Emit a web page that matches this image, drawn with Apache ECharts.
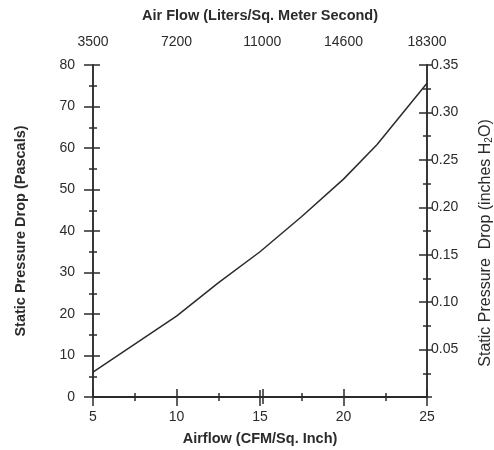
<!DOCTYPE html>
<html>
<head>
<meta charset="utf-8">
<script src="https://cdn.jsdelivr.net/npm/echarts@6/dist/echarts.min.js"></script>
<style>
  html, body { margin: 0; padding: 0; background: #fff; }
  #chart { width: 494px; height: 450px; }
</style>
</head>
<body>
<div id="chart"></div>
<script>
// airflow in CFM/sq. inch vs pressure drop in Pascals
const airflow = [5, 10, 12.5, 15, 17.5, 20, 22, 25];
const pressurePa = [6, 19.5, 27.5, 35, 43.5, 52.5, 60.8, 75.6];
// top axis tick labels (liters / sq. meter second)
const topTicks = [3500, 7200, 11000, 14600, 18300];

const ink = '#2b2b2b';
const font = 'Liberation Sans, Arial, sans-serif';
const gridBox = { left: 93, right: 67, top: 65, bottom: 53, outerBoundsMode: 'none', containLabel: false };

// each axis is drawn twice (ticks outside + ticks inside) so ticks cross the line
function bottomAxis(gridIndex, inside) {
  return {
    gridIndex: gridIndex,
    type: 'value',
    position: 'bottom',
    min: 5, max: 25, interval: 5,
    name: inside ? '' : 'Airflow (CFM/Sq. Inch)',
    nameLocation: 'middle',
    nameGap: 34,
    nameTextStyle: { fontFamily: font, fontWeight: 'bold', fontSize: 14.5, color: ink },
    axisLine: { show: true, lineStyle: { color: ink, width: 1.5 } },
    axisTick: { show: true, inside: inside, length: inside ? 7 : 9, lineStyle: { color: ink, width: 1.5 } },
    minorTick: { show: true, splitNumber: 2, length: 4, lineStyle: { color: ink, width: 1.5 } },
    axisLabel: { show: !inside, margin: 13, fontFamily: font, fontSize: 14, color: ink },
    splitLine: { show: false }
  };
}

function topAxis(gridIndex, inside) {
  return {
    gridIndex: gridIndex,
    type: 'value',
    position: 'top',
    min: topTicks[0], max: topTicks[topTicks.length - 1],
    name: inside ? '' : 'Air Flow (Liters/Sq. Meter Second)',
    nameLocation: 'middle',
    nameGap: 42,
    nameTextStyle: { fontFamily: font, fontWeight: 'bold', fontSize: 14.5, color: ink },
    axisLine: { show: true, lineStyle: { color: ink, width: 1.5 } },
    axisTick: { show: true, inside: inside, length: inside ? 7 : 8, customValues: topTicks, lineStyle: { color: ink, width: 1.5 } },
    axisLabel: {
      show: !inside, margin: 16, customValues: topTicks, fontFamily: font, fontSize: 14, color: ink,
      formatter: function (v) { return String(v); }
    },
    splitLine: { show: false }
  };
}

function leftAxis(gridIndex, inside) {
  return {
    gridIndex: gridIndex,
    type: 'value',
    position: 'left',
    min: 0, max: 80, interval: 10,
    name: inside ? '' : 'Static Pressure Drop (Pascals)',
    nameLocation: 'middle',
    nameGap: 65,
    nameRotate: 90,
    nameTextStyle: { fontFamily: font, fontWeight: 'bold', fontSize: 14.5, color: ink },
    axisLine: { show: true, lineStyle: { color: ink, width: 1.5 } },
    axisTick: { show: true, inside: inside, length: inside ? 7 : 9, lineStyle: { color: ink, width: 1.5 } },
    minorTick: { show: true, splitNumber: 2, length: 4, lineStyle: { color: ink, width: 1.5 } },
    axisLabel: { show: !inside, margin: 18, fontFamily: font, fontSize: 14, color: ink },
    splitLine: { show: false }
  };
}

function rightAxis(gridIndex, inside) {
  return {
    gridIndex: gridIndex,
    type: 'value',
    position: 'right',
    min: 0, max: 0.35, interval: 0.05,
    name: inside ? '' : '{a|Static Pressure  Drop (inches H}{s|2}{a|O)}',
    nameLocation: 'middle',
    nameGap: 49,
    nameRotate: 90,
    nameTextStyle: {
      fontFamily: font, fontSize: 16, color: ink,
      padding: [0, 24, 0, 0],
      rich: {
        a: { fontFamily: font, fontSize: 16, color: ink, lineHeight: 18, verticalAlign: 'bottom' },
        s: { fontFamily: font, fontSize: 10, color: ink, lineHeight: 10, verticalAlign: 'bottom' }
      }
    },
    axisLine: { show: true, lineStyle: { color: ink, width: 1.5 } },
    axisTick: { show: true, inside: inside, length: inside ? 8 : 5, lineStyle: { color: ink, width: 1.5 } },
    minorTick: { show: true, splitNumber: 2, length: 4, lineStyle: { color: ink, width: 1.5 } },
    axisLabel: {
      show: !inside, margin: 4, fontFamily: font, fontSize: 14, color: ink,
      formatter: function (v) { return v === 0 ? '' : v.toFixed(2); }
    },
    splitLine: { show: false }
  };
}

const chart = echarts.init(document.getElementById('chart'));
chart.setOption({
  animation: false,
  backgroundColor: '#fff',
  grid: [Object.assign({}, gridBox), Object.assign({}, gridBox)],
  xAxis: [bottomAxis(0, false), topAxis(0, false), bottomAxis(1, true), topAxis(1, true)],
  yAxis: [leftAxis(0, false), rightAxis(0, false), leftAxis(1, true), rightAxis(1, true)],
  series: [{
    type: 'line',
    xAxisIndex: 0,
    yAxisIndex: 0,
    data: airflow.map((x, i) => [x, pressurePa[i]]),
    symbol: 'none',
    lineStyle: { color: ink, width: 1.5 },
    clip: false
  }]
});
</script>
</body>
</html>
